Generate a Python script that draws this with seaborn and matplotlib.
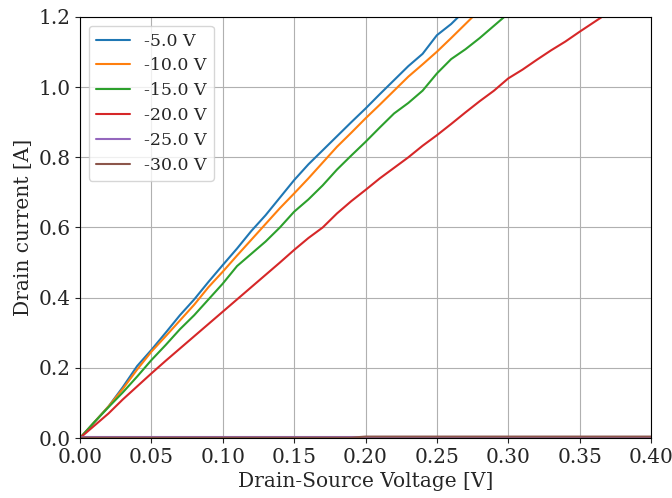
import matplotlib
matplotlib.use("Agg")
import matplotlib.pyplot as plt
import pandas as pd
import seaborn as sns

vds = [i / 100 for i in range(41)]

gate_labels = ['-5.0 V', '-10.0 V', '-15.0 V', '-20.0 V', '-25.0 V', '-30.0 V']

i_5 = [0.0, 0.045, 0.09, 0.145, 0.205, 0.251, 0.30, 0.35, 0.395, 0.445, 0.493,
       0.54, 0.59, 0.635, 0.685, 0.735, 0.78, 0.82, 0.86, 0.90, 0.939,
       0.98, 1.02, 1.06, 1.095, 1.148, 1.18, 1.22, 1.26]
i_10 = [0.0, 0.045, 0.09, 0.14, 0.195, 0.246, 0.29, 0.335, 0.38, 0.43, 0.474,
        0.52, 0.565, 0.61, 0.655, 0.697, 0.74, 0.785, 0.83, 0.87, 0.911,
        0.95, 0.99, 1.03, 1.065, 1.101, 1.14, 1.18, 1.22, 1.26]
i_15 = [0.0, 0.045, 0.088, 0.13, 0.175, 0.222, 0.265, 0.31, 0.35, 0.395, 0.44,
        0.49, 0.525, 0.56, 0.60, 0.645, 0.68, 0.72, 0.765, 0.805, 0.844,
        0.885, 0.925, 0.955, 0.99, 1.039, 1.08, 1.108, 1.14, 1.175, 1.21, 1.24]
i_20 = [0.0, 0.035, 0.07, 0.11, 0.147, 0.184, 0.22, 0.255, 0.29, 0.325, 0.36,
        0.395, 0.43, 0.465, 0.50, 0.536, 0.57, 0.60, 0.64, 0.675, 0.707,
        0.74, 0.77, 0.80, 0.833, 0.863, 0.895, 0.928, 0.96, 0.99, 1.025,
        1.05, 1.078, 1.105, 1.13, 1.158, 1.185, 1.212, 1.24]
i_25 = [0.004] * 41
i_30 = [0.001] * 20 + [0.004] * 21

series = [i_5, i_10, i_15, i_20, i_25, i_30]

rows = []
for lab, vals in zip(gate_labels, series):
    for x, y in zip(vds, vals):
        rows.append({'vds': x, 'id': y, 'vgs': lab})
df = pd.DataFrame(rows)

sns.set_style("ticks")
plt.rcParams['font.family'] = ['DejaVu Serif']

fig = plt.figure(figsize=(6.72, 4.98), dpi=100)
ax = fig.add_axes([80 / 672, 1 - 438 / 498, 571 / 672, 421 / 498])

sns.lineplot(data=df, x='vds', y='id', hue='vgs', hue_order=gate_labels,
             palette='tab10', linewidth=1.5, ax=ax)

ax.set_xlim(0, 0.4)
ax.set_ylim(0, 1.2)
ax.set_xticks([0, 0.05, 0.1, 0.15, 0.2, 0.25, 0.3, 0.35, 0.4])
ax.set_xticklabels(['0.00', '0.05', '0.10', '0.15', '0.20', '0.25', '0.30', '0.35', '0.40'])
ax.set_yticks([0, 0.2, 0.4, 0.6, 0.8, 1.0, 1.2])
ax.set_yticklabels(['0.0', '0.2', '0.4', '0.6', '0.8', '1.0', '1.2'])
ax.tick_params(labelsize=14.5)
ax.grid(True, color='#b0b0b0', linewidth=0.8)
ax.set_xlabel('Drain-Source Voltage [V]', fontsize=14.5)
ax.set_ylabel('Drain current [A]', fontsize=14.5)
for s in ax.spines.values():
    s.set_color('black')
ax.legend(loc='upper left', fontsize=12.5, labelspacing=0.45, title=None)

fig.savefig('out.png', dpi=100)
